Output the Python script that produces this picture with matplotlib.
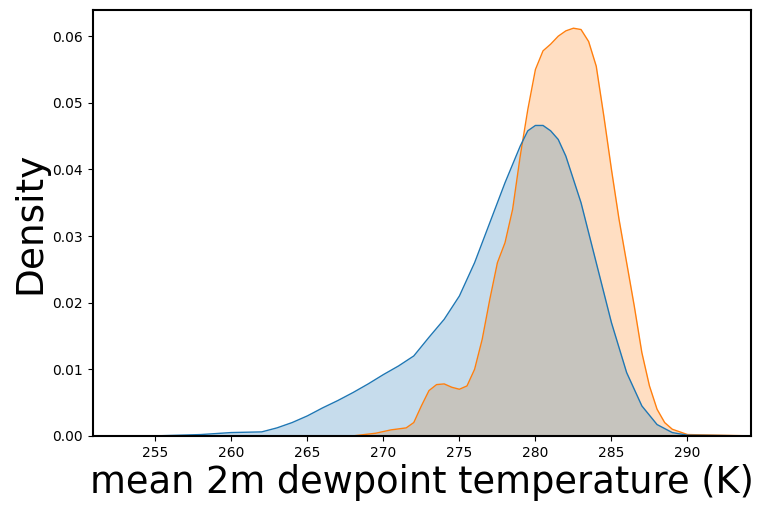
import numpy as np
import matplotlib.pyplot as plt
from matplotlib.ticker import FormatStrFormatter

# densities
blue_x = [250.9, 255, 258, 260, 262, 263, 264, 265, 266, 267, 268, 269, 270, 271, 272, 273, 274, 275, 276,
          277, 278, 279, 279.5, 280, 280.5, 281, 281.5, 282, 283, 284, 285, 286, 287, 288, 289, 290, 294.2]
blue_y = [0, 0, 0.0002, 0.0005, 0.0006, 0.0012, 0.002, 0.003, 0.0042, 0.0053, 0.0065, 0.0078, 0.0092, 0.0105,
          0.012, 0.0148, 0.0175, 0.021, 0.026, 0.032, 0.038, 0.0435, 0.0458, 0.0466, 0.0466, 0.0458, 0.0445,
          0.042, 0.035, 0.026, 0.017, 0.0095, 0.0045, 0.0017, 0.0005, 0.0001, 0]
orange_x = [250.9, 268, 269.5, 270.5, 271.5, 272, 272.5, 273, 273.5, 274, 274.5, 275, 275.5, 276, 276.5, 277,
            277.5, 278, 278.5, 279, 279.5, 280, 280.5, 281, 281.5, 282, 282.5, 283, 283.5, 284, 284.5, 285,
            285.5, 286, 286.5, 287, 287.5, 288, 288.5, 289, 290, 294.2]
orange_y = [0, 0, 0.0004, 0.0009, 0.0012, 0.002, 0.0045, 0.0068, 0.0077, 0.0078, 0.0073, 0.007, 0.0075, 0.01,
            0.0145, 0.0205, 0.026, 0.029, 0.034, 0.042, 0.049, 0.055, 0.0578, 0.0588, 0.06, 0.0608, 0.0612,
            0.061, 0.0592, 0.0555, 0.048, 0.04, 0.0325, 0.026, 0.0195, 0.0125, 0.0075, 0.004, 0.002, 0.001,
            0.0002, 0]

fig = plt.figure(figsize=(7.62, 5.11), dpi=100)
ax = fig.add_axes([0.122, 0.147, 0.864, 0.833])

ax.fill_between(orange_x, orange_y, color='tab:orange', alpha=0.25, linewidth=0)
ax.plot(orange_x, orange_y, color='tab:orange', linewidth=1)
ax.fill_between(blue_x, blue_y, color='tab:blue', alpha=0.25, linewidth=0)
ax.plot(blue_x, blue_y, color='tab:blue', linewidth=1)

ax.set_xlim(250.9, 294.2)
ax.set_ylim(0, 0.0639)
ax.set_xticks(np.arange(255, 291, 5))
ax.set_yticks(np.arange(0, 0.061, 0.01))
ax.yaxis.set_major_formatter(FormatStrFormatter('%.2f'))
for s in ax.spines.values():
    s.set_linewidth(1.5)
ax.set_xlabel('mean 2m dewpoint temperature (K)', fontsize=26.5)
ax.xaxis.set_label_coords(0.5, -0.065)
ax.xaxis.label.set_verticalalignment('top')
ax.set_ylabel('Density', fontsize=27, labelpad=3)

fig.savefig('out.png', dpi=100)
